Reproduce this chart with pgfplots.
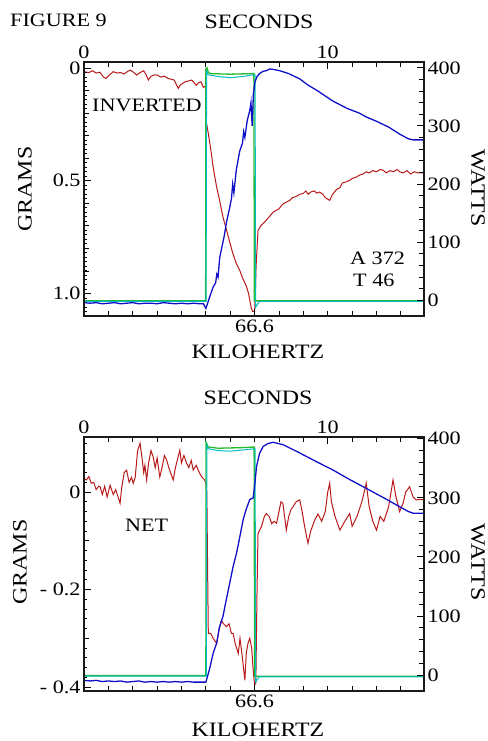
\documentclass[border=0pt]{standalone}
\usepackage{pgfplots}
\pgfplotsset{compat=1.18}
\usepackage{fontspec}
\setmainfont[FakeStretch=1.17]{Liberation Serif}
\definecolor{gred}{RGB}{185,25,25}
\definecolor{gblue}{RGB}{15,15,200}
\definecolor{ggreen}{RGB}{40,185,45}
\definecolor{gcyan}{RGB}{0,190,195}
\newcommand\lab{\fontsize{20.5}{22}\selectfont}
\newcommand\tl{\fontsize{19}{20}\selectfont}

\pgfplotsset{
  panel/.style={scale only axis, width=340bp, height=254bp, anchor=south west,
    xmin=0, xmax=13.95, axis on top,
    axis line style={line width=1.2pt, black!90},
    major tick style={black, line width=0.9pt},
    minor tick style={black, line width=0.8pt},
    major tick length=7bp, minor tick length=5bp, tick align=inside,
    ticklabel style={font=\tl},
    /pgf/number format/assume math mode=true},
  gline/.style={line width=1pt, no marks},
}

\begin{document}
\begin{tikzpicture}
\useasboundingbox (0bp,0bp) rectangle (488bp,741bp);

% ---------------- top panel ----------------
\begin{axis}[panel, at={(84bp,425bp)},
  y dir=reverse, ymin=-0.027, ymax=1.10,
  xtick={0,10}, xticklabels={0,10}, minor xtick={1,...,13},
  xtick pos=top, xticklabel pos=top,
  ytick={0,0.5,1}, yticklabels={0,0.5,1.0}, minor y tick num=4,
  ytick pos=left, yticklabel pos=left,
  extra y ticks={0.02,0.04,...,1.09}, extra y tick labels={},
  extra y tick style={major tick length=3bp, ytick pos=left}]
\addplot[gline, gred] coordinates {
 (0,0.016)(0.2,0.020)(0.35,0.012)(0.5,0.022)(0.65,0.018)(0.8,0.040)(0.9,0.046)(1.05,0.030)
 (1.2,0.016)(1.35,0.022)(1.5,0.020)(1.65,0.026)(1.8,0.014)(1.9,0.009)(2.05,0.020)(2.16,0.031)
 (2.3,0.020)(2.45,0.012)(2.55,0.030)(2.64,0.053)(2.75,0.036)(2.9,0.030)(3.0,0.031)(3.15,0.040)
 (3.3,0.036)(3.45,0.046)(3.6,0.050)(3.7,0.053)(3.8,0.075)(3.87,0.090)(3.95,0.075)(4.05,0.068)
 (4.14,0.061)(4.25,0.058)(4.42,0.053)(4.52,0.065)(4.6,0.076)(4.7,0.065)(4.8,0.061)(4.9,0.086)
 (4.98,0.080)(5.0,0.10)(5.02,0.24)(5.1,0.29)(5.2,0.36)(5.3,0.44)(5.44,0.527)(5.55,0.58)
 (5.7,0.66)(5.85,0.72)(6.0,0.78)(6.1,0.82)(6.25,0.867)(6.4,0.90)(6.5,0.93)(6.67,0.97)
 (6.75,1.0)(6.82,1.04)(6.87,1.067)(6.92,1.08)(7.0,1.08)(7.03,1.0)(7.06,0.88)(7.1,0.80)
 (7.14,0.72)(7.25,0.70)(7.35,0.69)(7.48,0.675)(7.6,0.66)(7.75,0.64)(7.9,0.63)(8.0,0.625)
 (8.1,0.61)(8.2,0.60)(8.3,0.595)(8.44,0.587)(8.55,0.575)(8.7,0.57)(8.85,0.56)(8.99,0.557)
 (9.1,0.545)(9.2,0.56)(9.3,0.55)(9.45,0.545)(9.55,0.555)(9.67,0.55)(9.8,0.56)(9.9,0.575)
 (10.08,0.587)(10.2,0.56)(10.35,0.54)(10.5,0.53)(10.6,0.51)(10.75,0.505)(10.9,0.498)(11.0,0.49)
 (11.15,0.485)(11.3,0.475)(11.45,0.47)(11.58,0.46)(11.7,0.465)(11.85,0.455)(12.0,0.46)(12.15,0.45)
 (12.27,0.453)(12.4,0.465)(12.55,0.455)(12.7,0.46)(12.85,0.45)(12.95,0.46)(13.1,0.465)(13.25,0.455)
 (13.4,0.47)(13.55,0.46)(13.7,0.465)(13.95,0.465)
};
\end{axis}

\begin{axis}[panel, at={(84bp,425bp)},
  ymin=-27, ymax=410,
  ytick={0,100,...,400}, minor y tick num=4,
  ytick pos=right, yticklabel pos=right,
  xtick={7}, xticklabels={66.6}, minor xtick={1,...,13},
  xtick pos=bottom, xticklabel pos=bottom]
\addplot[gline, ggreen, line width=1.3pt] coordinates {
 (0,-1)(4.99,-1)(5.0,398)(5.05,400)(5.1,392)(5.2,390)(6.0,389)(6.9,390)(6.97,390)(6.99,-1)(7.2,-1)(13.95,-1)
};
\addplot[gline, gcyan] coordinates {
 (0,-2)(5.01,-2)(5.03,394)(5.1,388)(5.5,385)(6.0,383)(6.5,385)(6.95,388)(7.02,388)(7.04,-12)(7.1,-8)(7.2,-2)(13.95,-2)
};
\addplot[gline, gblue, line width=1.3pt] coordinates {
 (0,-4)(0.25,-5)(0.5,-4)(0.75,-6)(1.0,-5)(1.25,-4)(1.5,-6)(1.75,-5)(2.0,-4)(2.25,-6)(2.5,-5)
 (2.75,-5)(3.0,-6)(3.25,-4)(3.5,-5)(3.75,-6)(4.0,-5)(4.25,-6)(4.5,-5)(4.75,-6)(4.9,-6)
 (5.0,-14)(5.05,-8)(5.15,5)(5.3,23)(5.4,30)(5.45,45)(5.5,40)(5.57,74)(5.65,90)(5.75,110)
 (5.85,135)(5.98,160)(6.05,175)(6.1,200)(6.15,185)(6.25,225)(6.39,257)(6.5,270)(6.55,290)
 (6.6,280)(6.7,310)(6.8,326)(6.85,340)(6.9,300)(6.95,355)(7.01,375)(7.1,385)(7.2,390)
 (7.35,394)(7.48,395)(7.62,398)(7.8,397)(8.03,395)(8.4,390)(8.85,381)(9.2,370)(9.6,360)
 (10.2,343)(10.8,330)(11.3,322)(11.6,315)(12.0,308)(12.5,298)(12.95,286)(13.3,278)(13.5,276)(13.95,276)
};
\end{axis}

% ---------------- bottom panel ----------------
\begin{axis}[panel, at={(84bp,50bp)},
  ymin=-0.408, ymax=0.113,
  xtick={0,10}, xticklabels={0,10}, minor xtick={1,...,13},
  xtick pos=top, xticklabel pos=top,
  ytick={-0.4,-0.2,0}, yticklabels={- 0.4,- 0.2,0}, minor y tick num=1,
  ytick pos=left, yticklabel pos=left,
  extra y ticks={-0.38,-0.36,...,0.11}, extra y tick labels={},
  extra y tick style={major tick length=3bp, ytick pos=left}]
\addplot[gline, gred] coordinates {
 (0,0.028)(0.1,0.025)(0.2,0.032)(0.3,0.018)(0.4,0.02)(0.5,0.005)(0.6,0.012)(0.66,0.011)
 (0.75,-0.005)(0.85,0.012)(0.95,-0.01)(1.07,0.014)(1.2,-0.005)(1.3,0.005)(1.4,-0.01)(1.48,-0.023)
 (1.55,0.01)(1.65,0.04)(1.75,0.045)(1.85,0.02)(1.95,0.03)(2.02,0.018)(2.1,0.03)(2.2,0.085)
 (2.3,0.1)(2.38,0.07)(2.45,0.04)(2.5,0.055)(2.57,0.025)(2.65,0.06)(2.75,0.085)(2.84,0.072)
 (2.92,0.05)(3.0,0.07)(3.11,0.031)(3.2,0.05)(3.3,0.075)(3.39,0.066)(3.48,0.05)(3.55,0.04)
 (3.66,0.025)(3.75,0.05)(3.85,0.07)(3.93,0.086)(4.0,0.06)(4.1,0.075)(4.21,0.059)(4.3,0.05)
 (4.4,0.065)(4.48,0.045)(4.6,0.055)(4.75,0.038)(4.85,0.03)(4.95,0.025)(5.0,0.018)
 (5.04,0.0)(5.07,-0.15)(5.1,-0.29)(5.2,-0.29)(5.3,-0.30)(5.44,-0.31)(5.55,-0.28)(5.64,-0.263)
 (5.72,-0.27)(5.85,-0.276)(5.95,-0.27)(6.05,-0.29)(6.12,-0.29)(6.2,-0.31)(6.33,-0.331)(6.4,-0.30)
 (6.5,-0.34)(6.6,-0.386)(6.66,-0.33)(6.73,-0.31)(6.8,-0.30)(6.88,-0.32)(6.95,-0.37)(7.0,-0.395)
 (7.05,-0.392)(7.1,-0.20)(7.14,-0.085)(7.28,-0.071)(7.4,-0.05)(7.48,-0.044)(7.6,-0.05)(7.7,-0.065)
 (7.8,-0.06)(7.9,-0.064)(8.0,-0.04)(8.08,-0.02)(8.16,-0.023)(8.23,-0.05)(8.3,-0.078)(8.4,-0.05)
 (8.5,-0.035)(8.58,-0.03)(8.7,-0.02)(8.85,-0.016)(8.95,-0.04)(9.05,-0.07)(9.19,-0.105)(9.3,-0.08)
 (9.47,-0.057)(9.6,-0.045)(9.75,-0.06)(9.9,-0.04)(10.0,0.0)(10.08,0.018)(10.15,-0.02)(10.3,-0.05)
 (10.5,-0.078)(10.7,-0.06)(10.9,-0.044)(11.0,-0.07)(11.2,-0.05)(11.4,-0.02)(11.58,0.018)(11.7,-0.03)
 (11.85,-0.06)(12.0,-0.078)(12.15,-0.05)(12.3,-0.06)(12.5,-0.03)(12.68,0.025)(12.8,-0.01)(12.95,-0.04)
 (13.09,-0.023)(13.2,0.0)(13.36,0.011)(13.5,-0.01)(13.63,-0.016)(13.8,-0.015)(13.95,-0.016)
};
\end{axis}

\begin{axis}[panel, at={(84bp,50bp)},
  ymin=-27, ymax=403,
  ytick={0,100,...,400}, minor y tick num=4,
  ytick pos=right, yticklabel pos=right,
  xtick={7}, xticklabels={66.6}, minor xtick={1,...,13},
  xtick pos=bottom, xticklabel pos=bottom]
\addplot[gline, ggreen, line width=1.3pt] coordinates {
 (0,-1)(5.0,-1)(5.01,394)(5.1,386)(5.5,384)(6.5,385)(6.98,386)(7.0,-2)(13.95,-2)
};
\addplot[gline, gcyan] coordinates {
 (0,-2)(5.02,-2)(5.04,390)(5.1,383)(5.5,380)(6.0,379)(6.5,381)(6.97,383)(7.02,383)(7.04,-12)(7.1,-8)(7.2,-3)(13.95,-3)
};
\addplot[gline, gblue, line width=1.3pt] coordinates {
 (0,-9)(0.25,-10)(0.5,-9)(0.75,-11)(1.0,-10)(1.25,-11)(1.5,-10)(1.75,-12)(2.0,-11)(2.25,-10)
 (2.5,-12)(2.75,-11)(3.0,-12)(3.25,-11)(3.5,-12)(3.75,-11)(4.0,-12)(4.25,-11)(4.5,-12)(4.75,-12)
 (5.0,-12)(5.05,-5)(5.15,10)(5.3,37)(5.45,55)(5.55,80)(5.7,99)(5.85,130)(5.95,150)(6.12,184)
 (6.25,205)(6.35,225)(6.53,263)(6.65,280)(6.8,297)(6.94,300)(7.0,320)(7.08,353)(7.2,375)
 (7.35,387)(7.55,392)(7.76,394)(8.17,390)(8.85,376)(9.5,362)(10.22,347)(10.9,331)(11.58,316)
 (12.3,300)(12.95,285)(13.3,277)(13.5,274)(13.95,274)
};
\end{axis}

% ---------------- text ----------------
\node[font=\tl, anchor=west, inner sep=0] at (10bp,721bp) {FIGURE 9};
\node[font=\lab] at (259bp,719bp) {SECONDS};
\node[font=\lab] at (258bp,389bp) {KILOHERTZ};
\node[font=\lab, rotate=90] at (25bp,552bp) {GRAMS};
\node[font=\lab, rotate=-90] at (478bp,553bp) {WATTS};
\node[font=\tl, anchor=west, inner sep=0] at (92bp,636bp) {INVERTED};
\node[font=\tl, anchor=west, inner sep=0] at (350bp,483bp) {A 372};
\node[font=\tl, anchor=west, inner sep=0] at (353bp,461bp) {T 46};

\node[font=\lab] at (258bp,343bp) {SECONDS};
\node[font=\lab] at (258bp,11bp) {KILOHERTZ};
\node[font=\lab, rotate=90] at (20bp,179bp) {GRAMS};
\node[font=\lab, rotate=-90] at (478bp,179bp) {WATTS};
\node[font=\tl, anchor=west, inner sep=0] at (125bp,216bp) {NET};
\end{tikzpicture}
\end{document}
